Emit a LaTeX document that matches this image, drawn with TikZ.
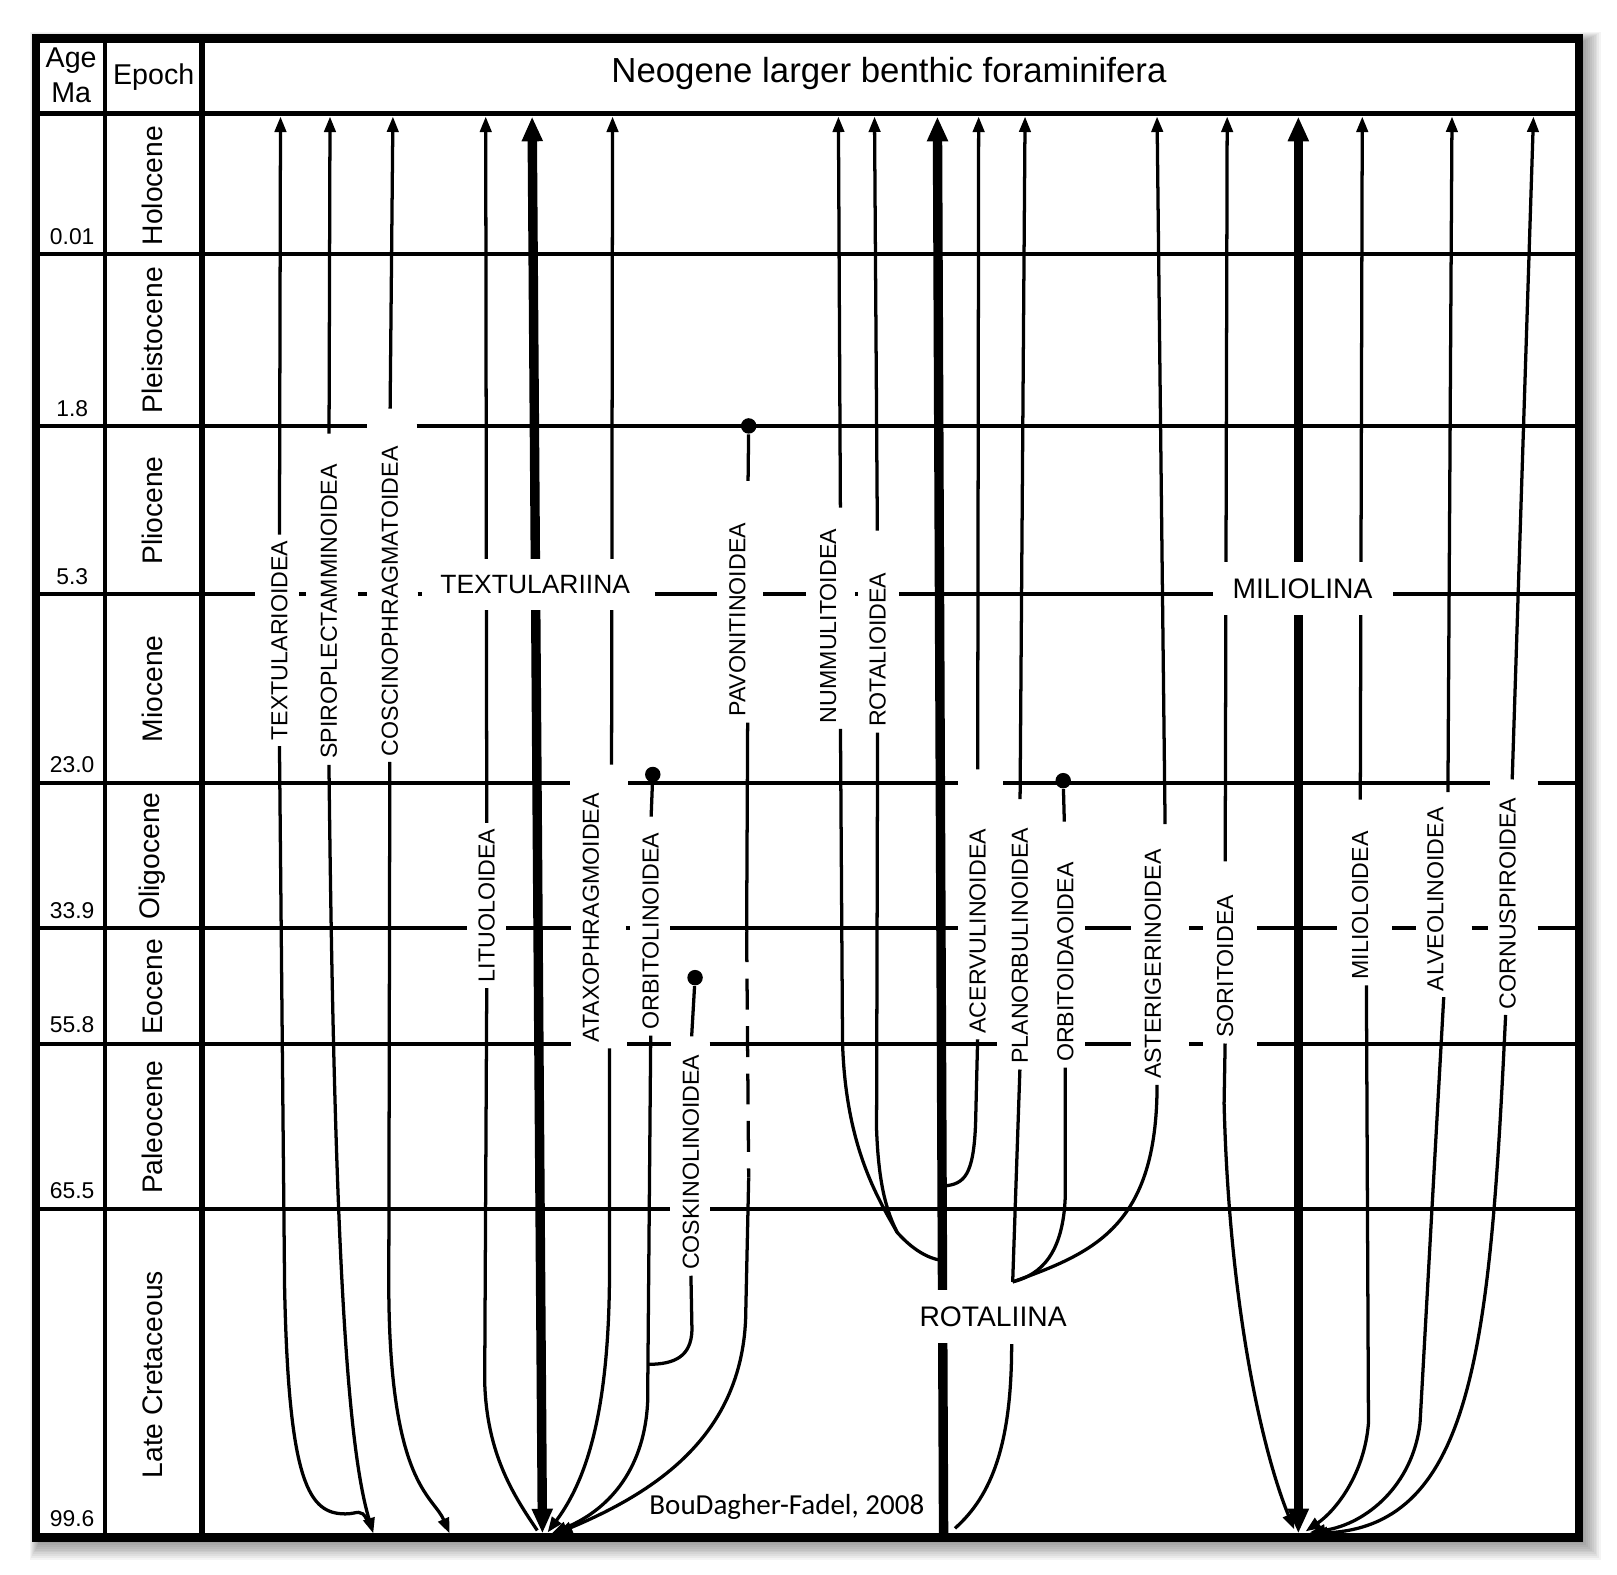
\documentclass[tikz,border=0pt]{standalone}
\usepackage{fontspec}
\setmainfont{Liberation Sans}
\newfontfamily\credfont{Carlito}
\usetikzlibrary{arrows.meta, backgrounds}

\newcommand{\ttlfont}{\fontsize{9.6}{11}\selectfont}
\newcommand{\hdfont}{\fontsize{7.9}{9.4}\selectfont}
\newcommand{\epofont}{\fontsize{7.8}{9}\selectfont}
\newcommand{\agefont}{\fontsize{6.3}{7.5}\selectfont}
\newcommand{\grpfont}{\fontsize{7.8}{9}\selectfont}
\newcommand{\labfont}{\fontsize{6.4}{7.5}\selectfont}

\begin{document}
\begin{tikzpicture}[x=0.1mm, y=-0.1mm,
    gline/.style={line width=1.1pt},
    lin/.style={line width=0.9pt},
    trunk/.style={line width=2.6pt},
    arr/.style={-{Triangle[length=1.5mm,width=1.1mm]}},
    bigtips/.style={{Triangle[length=2.4mm,width=1.9mm]}-{Triangle[length=2.4mm,width=1.9mm]}},
    sfam/.style={rotate=90, fill=white, font=\labfont, inner xsep=0.5mm, inner ysep=1.1mm},
    suborder/.style={fill=white, font=\grpfont, inner xsep=0.8mm, inner ysep=1.6mm},
    epoch/.style={rotate=90, font=\epofont},
    age/.style={font=\agefont},
    extinct/.style={circle, fill, inner sep=0pt, minimum size=1.5mm}]

    \useasboundingbox (0,0) rectangle (1568,1527);

    % Header
    \node[font=\hdfont, align=center] (agehd) at (69,73) {Age\\Ma};
    \node[font=\hdfont] (epochhd) at (149,75) {Epoch};
    \node[font=\ttlfont] (title) at (862,71) {Neogene larger benthic foraminifera};

    % Epochs and ages
    \foreach \y/\t in {180/Holocene, 330/Pleistocene, 495/Pliocene, 668/Miocene,
                       830/Oligocene, 957/Eocene, 1093/Paleocene, 1333/Late Cretaceous}
        \node[epoch] (ep-\y) at (148,\y) {\t};
    \foreach \y/\t in {229/0.01, 396/1.8, 559/5.3, 741/23.0, 883/33.9,
                       994/55.8, 1155/65.5, 1473/99.6}
        \node[age] (age-\y) at (70,\y) {\t};

    % Superfamilies
    \node[sfam] (textularioidea) at (271,621) {TEXTULARIOIDEA};
    \node[sfam] (spiroplectamminoidea) at (319,593) {SPIROPLECTAMMINOIDEA};
    \node[sfam] (coscinophragmatoidea) at (378,583) {COSCINOPHRAGMATOIDEA};
    \node[sfam] (lituoloidea) at (472,878) {LITUOLOIDEA};
    \node[sfam] (ataxophragmoidea) at (573,890) {ATAXOPHRAGMOIDEA};
    \node[sfam] (orbitolinoidea) at (631,903) {ORBITOLINOIDEA};
    \node[sfam] (coskinolinoidea) at (670,1127) {COSKINOLINOIDEA};
    \node[sfam] (pavonitinoidea) at (715,601) {PAVONITINOIDEA};
    \node[sfam] (nummulitoidea) at (803,607) {NUMMULITOIDEA};
    \node[sfam] (rotalioidea) at (851,630) {ROTALIOIDEA};
    \node[sfam] (acervulinoidea) at (948,903) {ACERVULINOIDEA};
    \node[sfam] (planorbulinoidea) at (989,917) {PLANORBULINOIDEA};
    \node[sfam] (orbitoidaoidea) at (1033,933) {ORBITOIDAOIDEA};
    \node[sfam] (asterigerinoidea) at (1118,935) {ASTERIGERINOIDEA};
    \node[sfam] (soritoidea) at (1188,937) {SORITOIDEA};
    \node[sfam] (milioloidea) at (1319,878) {MILIOLOIDEA};
    \node[sfam] (alveolinoidea) at (1392,872) {ALVEOLINOIDEA};
    \node[sfam] (cornuspiroidea) at (1462,876) {CORNUSPIROIDEA};

    % Suborders
    \node[suborder, font=\fontsize{7.3}{8.5}\selectfont] (textulariina) at (519,567) {TEXTULARIINA};
    \node[suborder] (rotaliina) at (963,1277) {ROTALIINA};
    \node[suborder] (miliolina) at (1263,571) {MILIOLINA};

    % Extinctions
    \node[extinct] (pav-top) at (726,413) {};
    \node[extinct] (orbl-top) at (633,751) {};
    \node[extinct] (cosk-top) at (674,948) {};
    \node[extinct] (orbd-top) at (1031,757) {};

    \node[font=\credfont\fontsize{8}{9.6}\selectfont] (credit) at (763,1461) {BouDagher-Fadel, 2008};

    % Roots and joins
    \coordinate (spiro-end) at (362,1487);
    \coordinate (cosc-end) at (436,1487);
    \coordinate (tex-root) at (526,1487);
    \coordinate (cosk-join) at (628,1323);
    \coordinate (pav-dash1) at (724,903);
    \coordinate (pav-dash2) at (726,1142);
    \coordinate (rot-merge) at (870,1195);
    \coordinate (rot-join) at (912,1222);
    \coordinate (acerv-join) at (916,1150);
    \coordinate (plan-join) at (982,1243);
    \coordinate (mil-root) at (1259,1487);

    \begin{scope}[on background layer]
    % Frame, shadow and grid
    \fill[white] (0,0) rectangle (1568,1527);
    \foreach \i in {1,...,12}
        \fill[black, opacity=0.045] (35+5-0.9*\i,37+5-0.9*\i) rectangle (1531+1.8*\i,1491+1.8*\i);
    \fill[white] (35,37) rectangle (1531,1491);
    \draw[gline] (102,37) -- (102,1491);
    \draw[line width=1.5pt] (196,37) -- (196,1491);
    \draw[line width=1.5pt] (35,110) -- (1531,110);
    \draw[gline] (35,246) -- (1531,246);
    \foreach \a/\b in {35/356, 404/1531}
        \draw[gline] (\a,413) -- (\b,413);
    \foreach \a/\b in {35/247, 288/297, 347/356, 405/409, 635/695, 740/782, 829/833, 872/1176, 1351/1531}
        \draw[gline] (\a,576) -- (\b,576);
    \foreach \a/\b in {35/553, 609/929, 973/1445, 1491/1531}
        \draw[gline] (\a,759) -- (\b,759);
    \foreach \a/\b in {35/454, 489/554, 607/611, 649/929, 1052/1097, 1153/1167, 1219/1296, 1350/1373, 1427/1445, 1491/1531}
        \draw[gline] (\a,900) -- (\b,900);
    \foreach \a/\b in {35/554, 608/651, 688/967, 1052/1097, 1153/1167, 1219/1531}
        \draw[gline] (\a,1012) -- (\b,1012);
    \foreach \a/\b in {35/650, 687/1531}
        \draw[gline] (\a,1172) -- (\b,1172);

    % Textulariina
    \draw[trunk,bigtips] (tex-root) -- (516,113);
    \draw[lin,arr] (textularioidea.east) -- (272,113);
    \draw[lin] (textularioidea.west) -- (276,1250) .. controls (280,1440) and (300,1468) .. (335,1468)
        .. controls (347,1468) and (350,1462) .. (356,1474);
    \draw[lin,arr,shorten <=2.4mm] (spiroplectamminoidea.east) -- (320,113);
    \draw[lin,arr] (spiroplectamminoidea.west) .. controls (324,1200) and (336,1400) .. (spiro-end);
    \draw[lin,arr,shorten <=3.1mm] (coscinophragmatoidea.east) -- (381,113);
    \draw[lin,arr] (coscinophragmatoidea.west) -- (377,1250) .. controls (378,1440) and (420,1450) .. (cosc-end);
    \draw[lin,arr] (lituoloidea.east) -- (471,113);
    \draw[lin] (lituoloidea.west) -- (470,1340) .. controls (472,1410) and (498,1450) .. (521,1484);
    \draw[lin,arr,shorten <=2.2mm] ([xshift=2mm]ataxophragmoidea.east) -- (594,113);
    \draw[lin,arr] ([xshift=1.8mm]ataxophragmoidea.west) -- (591,1240) .. controls (590,1380) and (565,1440) .. (531,1486);
    \draw[lin,shorten <=1mm] (orbitolinoidea.east) -- (orbl-top);
    \draw[lin,arr] (orbitolinoidea.west) -- (628,1360) .. controls (625,1420) and (595,1462) .. (535,1487);
    \draw[lin,shorten <=1.2mm] (coskinolinoidea.east) -- (cosk-top);
    \draw[lin] (coskinolinoidea.west) -- (671,1290) .. controls (670,1315) and (655,1323) .. (cosk-join);
    \draw[lin,shorten <=3.5mm] ([xshift=1mm]pavonitinoidea.east) -- (pav-top);
    \draw[lin] ([xshift=1mm]pavonitinoidea.west) -- (pav-dash1);
    \draw[lin,dash pattern=on 3mm off 1.6mm] (pav-dash1) -- (pav-dash2);
    \draw[lin,arr] (pav-dash2) -- (723,1280) .. controls (718,1390) and (640,1445) .. (540,1487);

    % Rotaliina
    \draw[trunk,-{Triangle[length=2.4mm,width=1.9mm]}] (915,1489) -- (909,113);
    \draw[lin,arr,shorten <=1.5mm] ([xshift=1.2mm]nummulitoidea.east) -- (813,113);
    \draw[lin] ([xshift=1.2mm]nummulitoidea.west) -- (817,1011) .. controls (820,1110) and (850,1160) .. (rot-merge)
        .. controls (885,1212) and (900,1220) .. (rot-join);
    \draw[lin,arr,shorten <=3.5mm] (rotalioidea.east) -- (848,113);
    \draw[lin] (rotalioidea.west) -- (850,1095) .. controls (852,1150) and (860,1175) .. (rot-merge);
    \draw[lin,arr,shorten <=5.2mm] (acervulinoidea.east) -- (949,113);
    \draw[lin] (acervulinoidea.west) -- (946,1090) .. controls (944,1140) and (935,1148) .. (acerv-join);
    \draw[lin,arr,shorten <=2.2mm] (planorbulinoidea.east) -- (994,113);
    \draw[lin] (planorbulinoidea.west) -- (plan-join);
    \draw[lin] ([xshift=1.8mm]rotaliina.south) .. controls (981,1400) and (962,1450) .. (926,1482);
    \draw[lin,shorten <=3.4mm] (orbitoidaoidea.east) -- (orbd-top);
    \draw[lin] (orbitoidaoidea.west) -- (1033,1160) .. controls (1031,1215) and (1010,1236) .. (plan-join);
    \draw[lin,arr,shorten <=1.9mm] ([xshift=1.2mm]asterigerinoidea.east) -- (1122,113);
    \draw[lin] ([xshift=0.4mm]asterigerinoidea.west) .. controls (1122,1190) and (1060,1215) .. (plan-join);

    % Miliolina
    \draw[trunk,bigtips] (mil-root) -- (1259,113);
    \draw[lin,arr,shorten <=2.7mm] (soritoidea.east) -- (1190,113);
    \draw[lin,arr] (soritoidea.west) -- (1187,1070) .. controls (1192,1270) and (1225,1410) .. (1255,1483);
    \draw[lin,arr,shorten <=2.5mm] (milioloidea.east) -- (1321,113);
    \draw[lin,arr] ([xshift=0.6mm]milioloidea.west) -- (1327,1380) .. controls (1323,1430) and (1295,1465) .. (1266,1485);
    \draw[lin,arr,shorten <=0.9mm] ([xshift=1.2mm]alveolinoidea.east) -- (1408,113);
    \draw[lin,arr] ([xshift=0.8mm]alveolinoidea.west) -- (1377,1380) .. controls (1370,1440) and (1325,1478) .. (1270,1486);
    \draw[lin,arr,shorten <=1.2mm] ([xshift=0.4mm]cornuspiroidea.east) -- (1487,113);
    \draw[lin,arr] ([xshift=-0.2mm]cornuspiroidea.west) .. controls (1445,1300) and (1430,1480) .. (1272,1487);
    \end{scope}

    % Outer frame
    \draw[line width=2.4pt] (35,37) rectangle (1531,1491);

\end{tikzpicture}
\end{document}
